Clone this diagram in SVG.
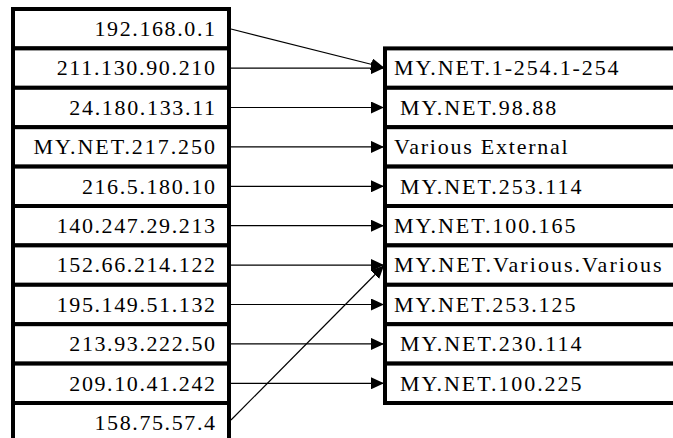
<svg xmlns="http://www.w3.org/2000/svg" width="673" height="438" viewBox="0 0 673 438">
<defs>
<marker id="ah" markerWidth="13" markerHeight="12" refX="13" refY="6" orient="auto" markerUnits="userSpaceOnUse">
<path d="M0,0 L13,6 L0,12 Z" fill="#000"/>
</marker>
<style>
.box{fill:#fff;stroke:#000;stroke-width:4}
.c{stroke:#000;stroke-width:1.2;fill:none;marker-end:url(#ah)}
</style>
</defs>
<rect width="673" height="438" fill="#fff"/>
<g id="src-0"><rect class="box" x="13" y="9" width="216" height="39.4"/><text font-family="Liberation Serif" font-size="22" text-anchor="end" x="215" y="36" textLength="120.5" lengthAdjust="spacing">192.168.0.1</text></g>
<g id="src-1"><rect class="box" x="13" y="48.4" width="216" height="39.4"/><text font-family="Liberation Serif" font-size="22" text-anchor="end" x="215" y="75.4" textLength="158.3" lengthAdjust="spacing">211.130.90.210</text></g>
<g id="src-2"><rect class="box" x="13" y="87.8" width="216" height="39.4"/><text font-family="Liberation Serif" font-size="22" text-anchor="end" x="215" y="114.8" textLength="145.7" lengthAdjust="spacing">24.180.133.11</text></g>
<g id="src-3"><rect class="box" x="13" y="127.2" width="216" height="39.4"/><text font-family="Liberation Serif" font-size="22" text-anchor="end" x="215" y="154.2" textLength="181.5" lengthAdjust="spacing">MY.NET.217.250</text></g>
<g id="src-4"><rect class="box" x="13" y="166.6" width="216" height="39.4"/><text font-family="Liberation Serif" font-size="22" text-anchor="end" x="215" y="193.6" textLength="133.1" lengthAdjust="spacing">216.5.180.10</text></g>
<g id="src-5"><rect class="box" x="13" y="206" width="216" height="39.4"/><text font-family="Liberation Serif" font-size="22" text-anchor="end" x="215" y="233" textLength="158.3" lengthAdjust="spacing">140.247.29.213</text></g>
<g id="src-6"><rect class="box" x="13" y="245.4" width="216" height="39.4"/><text font-family="Liberation Serif" font-size="22" text-anchor="end" x="215" y="272.4" textLength="158.3" lengthAdjust="spacing">152.66.214.122</text></g>
<g id="src-7"><rect class="box" x="13" y="284.8" width="216" height="39.4"/><text font-family="Liberation Serif" font-size="22" text-anchor="end" x="215" y="311.8" textLength="158.3" lengthAdjust="spacing">195.149.51.132</text></g>
<g id="src-8"><rect class="box" x="13" y="324.2" width="216" height="39.4"/><text font-family="Liberation Serif" font-size="22" text-anchor="end" x="215" y="351.2" textLength="145.7" lengthAdjust="spacing">213.93.222.50</text></g>
<g id="src-9"><rect class="box" x="13" y="363.6" width="216" height="39.4"/><text font-family="Liberation Serif" font-size="22" text-anchor="end" x="215" y="390.6" textLength="145.7" lengthAdjust="spacing">209.10.41.242</text></g>
<g id="src-10"><rect class="box" x="13" y="403" width="216" height="45"/><text font-family="Liberation Serif" font-size="22" text-anchor="end" x="215" y="430" textLength="120.5" lengthAdjust="spacing">158.75.57.4</text></g>
<g id="dst-0"><rect class="box" x="385" y="48.4" width="300" height="39.4"/><text font-family="Liberation Serif" font-size="22" x="394" y="75.4" textLength="224.5" lengthAdjust="spacing">MY.NET.1-254.1-254</text></g>
<g id="dst-1"><rect class="box" x="385" y="87.8" width="300" height="39.4"/><text font-family="Liberation Serif" font-size="22" x="400" y="114.8" textLength="156.3" lengthAdjust="spacing">MY.NET.98.88</text></g>
<g id="dst-2"><rect class="box" x="385" y="127.2" width="300" height="39.4"/><text font-family="Liberation Serif" font-size="22" x="394" y="154.2" textLength="173.7" lengthAdjust="spacing">Various External</text></g>
<g id="dst-3"><rect class="box" x="385" y="166.6" width="300" height="39.4"/><text font-family="Liberation Serif" font-size="22" x="400" y="193.6" textLength="181.5" lengthAdjust="spacing">MY.NET.253.114</text></g>
<g id="dst-4"><rect class="box" x="385" y="206" width="300" height="39.4"/><text font-family="Liberation Serif" font-size="22" x="394" y="233" textLength="181.5" lengthAdjust="spacing">MY.NET.100.165</text></g>
<g id="dst-5"><rect class="box" x="385" y="245.4" width="300" height="39.4"/><text font-family="Liberation Serif" font-size="22" x="394" y="272.4" textLength="267.6" lengthAdjust="spacing">MY.NET.Various.Various</text></g>
<g id="dst-6"><rect class="box" x="385" y="284.8" width="300" height="39.4"/><text font-family="Liberation Serif" font-size="22" x="394" y="311.8" textLength="181.5" lengthAdjust="spacing">MY.NET.253.125</text></g>
<g id="dst-7"><rect class="box" x="385" y="324.2" width="300" height="39.4"/><text font-family="Liberation Serif" font-size="22" x="400" y="351.2" textLength="181.5" lengthAdjust="spacing">MY.NET.230.114</text></g>
<g id="dst-8"><rect class="box" x="385" y="363.6" width="300" height="39.4"/><text font-family="Liberation Serif" font-size="22" x="400" y="390.6" textLength="181.5" lengthAdjust="spacing">MY.NET.100.225</text></g>
<g id="connectors">
<line class="c" x1="231" y1="29" x2="384" y2="67.5"/>
<line class="c" x1="231" y1="68.1" x2="384" y2="68.1"/>
<line class="c" x1="231" y1="107.5" x2="384" y2="107.5"/>
<line class="c" x1="231" y1="146.9" x2="384" y2="146.9"/>
<line class="c" x1="231" y1="186.3" x2="384" y2="186.3"/>
<line class="c" x1="231" y1="225.7" x2="384" y2="225.7"/>
<line class="c" x1="231" y1="265.1" x2="384" y2="265.1"/>
<line class="c" x1="231" y1="304.5" x2="384" y2="304.5"/>
<line class="c" x1="231" y1="343.9" x2="384" y2="343.9"/>
<line class="c" x1="231" y1="383.3" x2="384" y2="383.3"/>
<line class="c" x1="231" y1="420" x2="384" y2="265.5"/>
</g>
</svg>
